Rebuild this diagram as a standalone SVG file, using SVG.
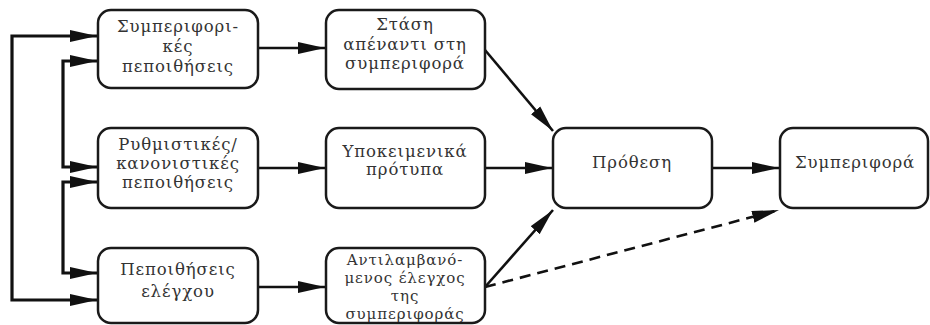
<svg xmlns="http://www.w3.org/2000/svg" width="930" height="325" viewBox="0 0 930 325">
<style>
.box{fill:#fff;stroke:#1a1a1a;stroke-width:2.5}
.t{font-family:"DejaVu Serif","Liberation Serif",serif;font-size:16.5px;fill:#333;text-anchor:middle;letter-spacing:0.9px}
.s{font-size:15px}
.c{fill:none;stroke:#111;stroke-width:2.6}
.fb{fill:none;stroke:#111;stroke-width:3.2}
.d{fill:none;stroke:#111;stroke-width:2.6;stroke-dasharray:11 7}
</style>
<defs>
<marker id="ah" markerUnits="userSpaceOnUse" markerWidth="28" markerHeight="13" refX="27" refY="6.5" orient="auto-start-reverse">
<path d="M0,0.5 L27,6.5 L0,12.5 z" fill="#111"/>
</marker>
</defs>
<g id="connectors">
<path class="fb" d="M97,36 H12 V300 H97" marker-start="url(#ah)" marker-end="url(#ah)"/>
<path class="fb" d="M97,61 H63 V167 H97" marker-start="url(#ah)" marker-end="url(#ah)"/>
<path class="fb" d="M97,182 H63 V273 H97" marker-start="url(#ah)" marker-end="url(#ah)"/>
<path class="c" d="M258,48 H325" marker-end="url(#ah)"/>
<path class="c" d="M258,168 H325" marker-end="url(#ah)"/>
<path class="c" d="M258,287 H325" marker-end="url(#ah)"/>
<path class="c" d="M485,168 H552" marker-end="url(#ah)"/>
<path class="c" d="M712,168 H779" marker-end="url(#ah)"/>
<path class="c" d="M485,50 L553,131" marker-end="url(#ah)"/>
<path class="c" d="M485,287 L553,210" marker-end="url(#ah)"/>
<path class="d" d="M485,287 L779,210" marker-end="url(#ah)"/>
</g>
<g id="n1"><rect class="box" x="98" y="10" width="160" height="78" rx="13"/>
<text class="t" x="178" y="32">Συμπεριφορι-</text><text class="t" x="178" y="52">κές</text><text class="t" x="178" y="72">πεποιθήσεις</text></g>
<g id="n2"><rect class="box" x="98" y="128" width="160" height="80" rx="13"/>
<text class="t" x="178" y="150">Ρυθμιστικές/</text><text class="t" x="178" y="169">κανονιστικές</text><text class="t" x="178" y="188">πεποιθήσεις</text></g>
<g id="n3"><rect class="box" x="98" y="248" width="160" height="75" rx="13"/>
<text class="t" x="178" y="275">Πεποιθήσεις</text><text class="t" x="178" y="297">ελέγχου</text></g>
<g id="n4"><rect class="box" x="326" y="10" width="159" height="79" rx="13"/>
<text class="t" x="405" y="30">Στάση</text><text class="t" x="405" y="50">απέναντι στη</text><text class="t" x="405" y="69">συμπεριφορά</text></g>
<g id="n5"><rect class="box" x="326" y="128" width="159" height="80" rx="13"/>
<text class="t" x="405" y="157">Υποκειμενικά</text><text class="t" x="405" y="175">πρότυπα</text></g>
<g id="n6"><rect class="box" x="326" y="248" width="159" height="75" rx="13"/>
<text class="t s" x="405" y="265">Αντιλαμβανό-</text><text class="t s" x="405" y="283">μενος έλεγχος</text><text class="t s" x="405" y="301">της</text><text class="t s" x="405" y="319">συμπεριφοράς</text></g>
<g id="n7"><rect class="box" x="553" y="128" width="159" height="80" rx="13"/>
<text class="t" x="632" y="168">Πρόθεση</text></g>
<g id="n8"><rect class="box" x="780" y="128" width="148" height="80" rx="13"/>
<text class="t" x="855" y="168">Συμπεριφορά</text></g>
</svg>
